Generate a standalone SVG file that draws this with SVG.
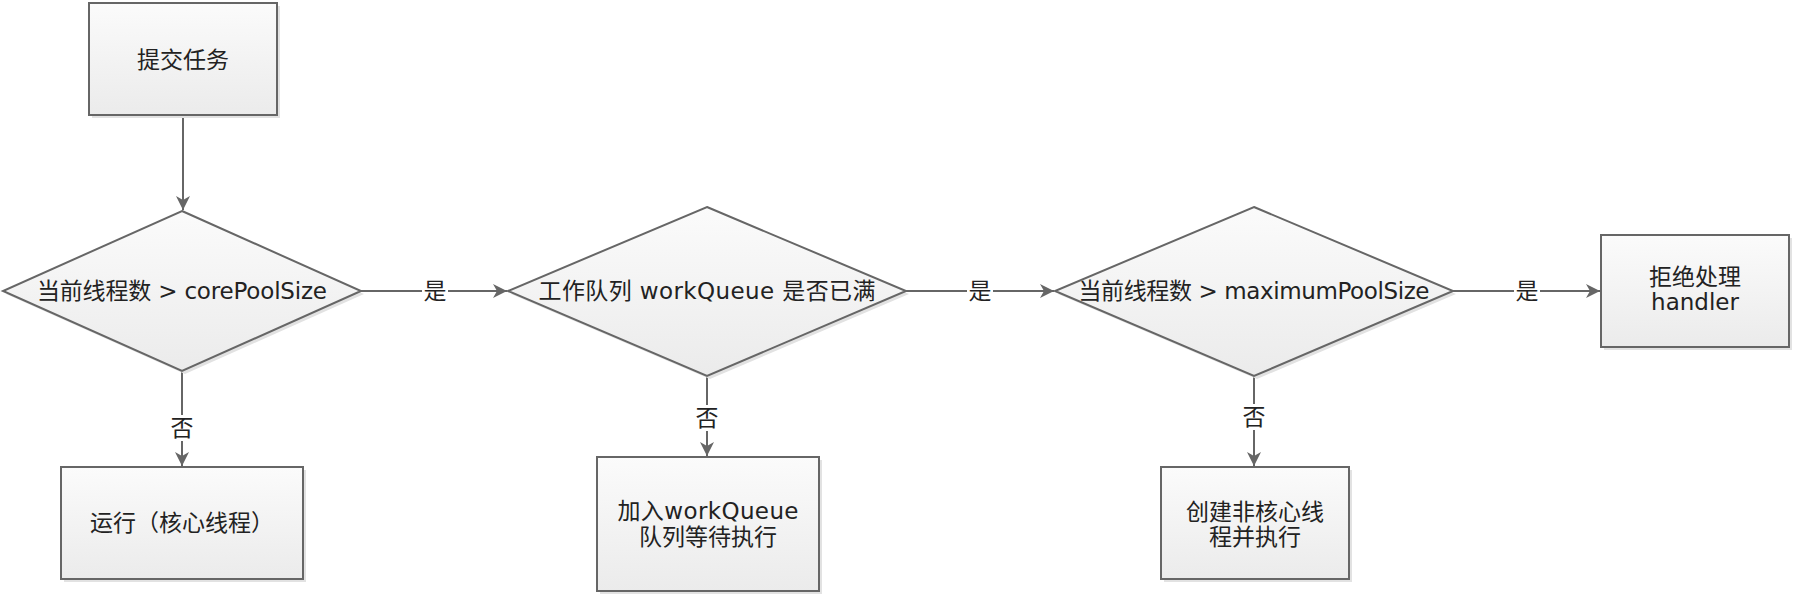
<svg xmlns="http://www.w3.org/2000/svg" width="1796" height="598" viewBox="0 0 1796 598">
<style>
.shape{fill:url(#g);stroke:#666;stroke-width:2}
.shadow{fill:#e2e2e2}
.t{font-family:"DejaVu Sans","Noto Sans CJK SC",sans-serif;font-size:23px;fill:#222;text-anchor:middle}
.c{fill:none;stroke:#666;stroke-width:2;marker-end:url(#arr)}
.lb{fill:#fff}
</style>
<defs>
<linearGradient id="g" x1="0" y1="0" x2="0" y2="1">
<stop offset="0" stop-color="#fbfbfb"/>
<stop offset="1" stop-color="#ebebeb"/>
</linearGradient>
<marker id="arr" markerUnits="userSpaceOnUse" markerWidth="16" markerHeight="16" refX="14" refY="7" orient="auto">
<path d="M0,0 L14,7 L0,14 L4,7 z" fill="#666"/>
</marker>
</defs>
<rect width="1796" height="598" fill="#fff"/>
<g id="connectors">
<line class="c" x1="183" y1="115" x2="183" y2="210"/>
<line class="c" x1="182" y1="371" x2="182" y2="466"/>
<line class="c" x1="361" y1="291" x2="507" y2="291"/>
<line class="c" x1="707" y1="376" x2="707" y2="456"/>
<line class="c" x1="906" y1="291" x2="1054" y2="291"/>
<line class="c" x1="1254" y1="376" x2="1254" y2="466"/>
<line class="c" x1="1453" y1="291" x2="1600" y2="291"/>
<rect class="lb" x="170" y="415" width="25" height="26"/>
<text class="t" x="182" y="436">否</text>
<rect class="lb" x="422" y="280" width="26" height="22"/>
<text class="t" x="435" y="299">是</text>
<rect class="lb" x="695" y="405" width="25" height="26"/>
<text class="t" x="707" y="426">否</text>
<rect class="lb" x="967" y="280" width="26" height="22"/>
<text class="t" x="980" y="299">是</text>
<rect class="lb" x="1242" y="404" width="25" height="26"/>
<text class="t" x="1254" y="425">否</text>
<rect class="lb" x="1514" y="280" width="26" height="22"/>
<text class="t" x="1527" y="299">是</text>
</g>
<g id="submit">
<rect class="shadow" x="92" y="6" width="188" height="112"/>
<rect class="shape" x="89" y="3" width="188" height="112"/>
<text class="t" x="183" y="68">提交任务</text>
</g>
<g id="checkCore">
<polygon class="shadow" points="185,214 364,294 185,374 6,294"/>
<polygon class="shape" points="182,211 361,291 182,371 3,291"/>
<text class="t" x="182" y="299" textLength="290">当前线程数 &gt; corePoolSize</text>
</g>
<g id="runCore">
<rect class="shadow" x="64" y="470" width="242" height="112"/>
<rect class="shape" x="61" y="467" width="242" height="112"/>
<text class="t" x="182" y="531">运行（核心线程）</text>
</g>
<g id="checkQueue">
<polygon class="shadow" points="710,210 909,294 710,379 511,294"/>
<polygon class="shape" points="707,207 906,291 707,376 508,291"/>
<text class="t" x="707" y="299" textLength="337">工作队列 workQueue 是否已满</text>
</g>
<g id="enqueue">
<rect class="shadow" x="600" y="460" width="222" height="134"/>
<rect class="shape" x="597" y="457" width="222" height="134"/>
<text class="t" x="708" y="519" textLength="181">加入workQueue</text>
<text class="t" x="708" y="545">队列等待执行</text>
</g>
<g id="checkMax">
<polygon class="shadow" points="1257,210 1456,294 1257,379 1058,294"/>
<polygon class="shape" points="1254,207 1453,291 1254,376 1055,291"/>
<text class="t" x="1254" y="299" textLength="351">当前线程数 &gt; maximumPoolSize</text>
</g>
<g id="createNonCore">
<rect class="shadow" x="1164" y="470" width="188" height="112"/>
<rect class="shape" x="1161" y="467" width="188" height="112"/>
<text class="t" x="1255" y="520">创建非核心线</text>
<text class="t" x="1255" y="545">程并执行</text>
</g>
<g id="reject">
<rect class="shadow" x="1604" y="238" width="188" height="112"/>
<rect class="shape" x="1601" y="235" width="188" height="112"/>
<text class="t" x="1695" y="285">拒绝处理</text>
<text class="t" x="1695" y="310">handler</text>
</g>
</svg>
